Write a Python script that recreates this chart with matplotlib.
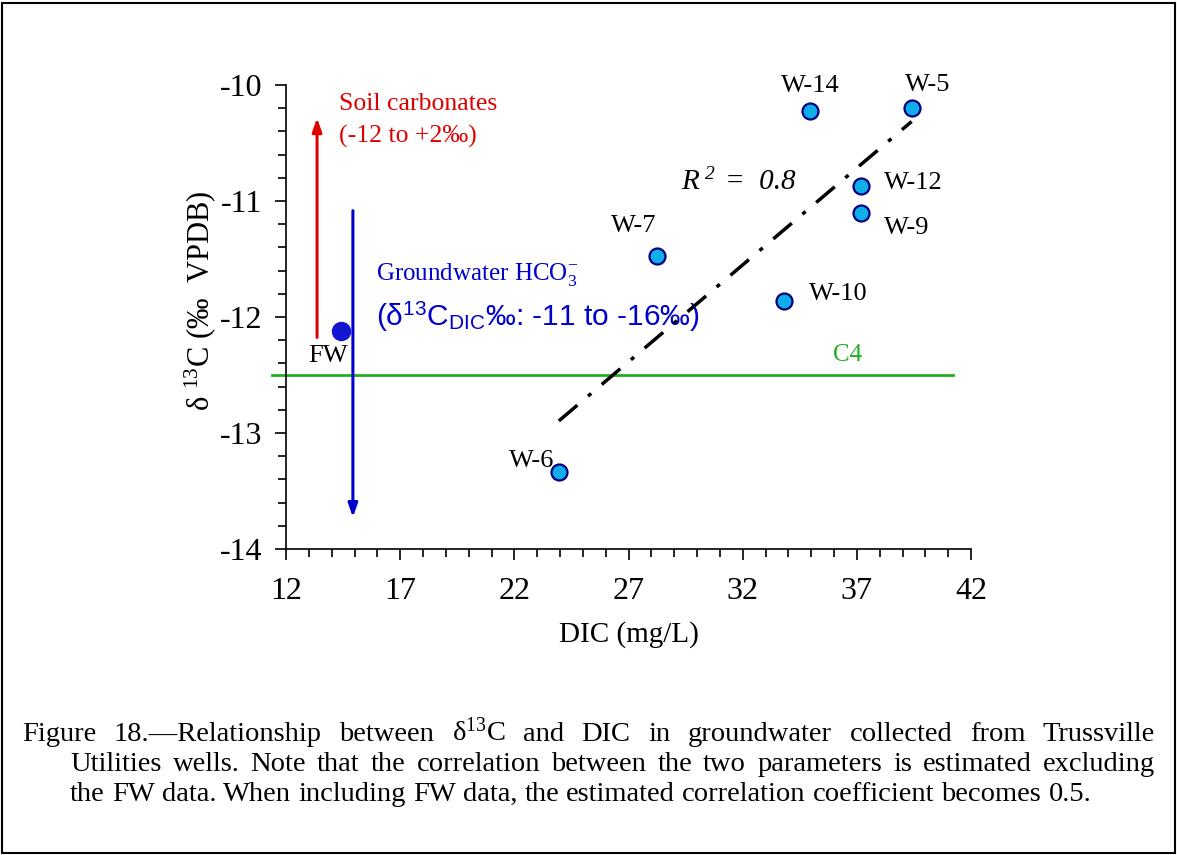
import matplotlib.pyplot as plt
import matplotlib.patches as patches
import numpy as np

# Datos
pozos = ["W-14", "W-5", "W-12", "W-9", "W-7", "W-10", "W-6"]
dic = [34.95, 39.4, 37.2, 37.2, 28.25, 33.8, 23.95]
d13c = [-10.22, -10.2, -10.87, -11.1, -11.47, -11.86, -13.34]
fw_dic = 14.4
fw_d13c = -12.12
c4_nivel = -12.5
c4_rango = [11.4, 41.2]
suelo_flecha = [13.36, -12.2, -10.26]
agua_flecha = [14.93, -11.06, -13.75]
r2_texto = "0.8"

xticks = [12, 17, 22, 27, 32, 37, 42]
yticks = [-14, -13, -12, -11, -10]

caption = [
    "Figure 18.\u2014Relationship between \u03b4$^{13}$C and DIC in groundwater collected from Trussville",
    "Utilities wells. Note that the correlation between the two parameters is estimated excluding",
    "the FW data. When including FW data, the estimated correlation coefficient becomes 0.5.",
]

# desplazamientos de etiquetas (pt), alineacion
offs = {
    "W-14": (0, 18, "center"), "W-5": (11.5, 16.5, "center"),
    "W-12": (16, 2, "left"), "W-9": (16, -11, "left"),
    "W-7": (-17, 21, "center"), "W-10": (18, 5, "left"),
    "W-6": (-3, 8, "right"),
}

plt.rcParams['font.family'] = 'Liberation Serif'
plt.rcParams['axes.unicode_minus'] = False
plt.rcParams['mathtext.fontset'] = 'custom'
plt.rcParams['mathtext.rm'] = 'Liberation Serif'
plt.rcParams['mathtext.it'] = 'Liberation Serif:italic'
plt.rcParams['mathtext.sf'] = 'Liberation Sans'

fig = plt.figure(figsize=(11.77, 8.55), dpi=100)
ax = fig.add_axes([286/1177, 1-549/855, 685/1177, 464/855])

ax.set_xlim(12, 42)
ax.set_ylim(-14, -10)
for s in ['top', 'right']:
    ax.spines[s].set_visible(False)
ax.spines['left'].set_linewidth(1.2)
ax.spines['bottom'].set_linewidth(1.2)
ax.set_xticks(xticks)
ax.set_yticks(yticks)
ax.set_xticks(np.arange(12, 43, 1), minor=True)
ax.set_yticks(np.arange(-14, -9.99, 0.2), minor=True)
ax.tick_params(which='major', length=8, width=1.2, labelsize=23)
ax.tick_params(which='minor', length=6, width=1.2)
ax.tick_params(axis='x', which='major', pad=12)
ax.tick_params(axis='y', which='major', pad=9)

ax.set_xlabel("DIC (mg/L)", fontsize=21)
ax.xaxis.set_label_coords(0.5, -0.155)
ax.set_ylabel("\u03b4 $^{13}$C (\u2030  VPDB)", fontsize=22)
ax.yaxis.set_label_coords(-0.10, 0.535)

# linea C4
ax.plot(c4_rango, [c4_nivel, c4_nivel], color='#22B022', lw=2, clip_on=False, zorder=2)
ax.text(36.6, c4_nivel + 0.08, "C4", color='#22B022', fontsize=18, ha='center', va='bottom')

# flechas
ax.annotate("", xy=(suelo_flecha[0], suelo_flecha[2]), xytext=(suelo_flecha[0], suelo_flecha[1]),
            arrowprops=dict(arrowstyle='-|>,head_length=0.8,head_width=0.28', color='#E00000', lw=2.2))
ax.annotate("", xy=(agua_flecha[0], agua_flecha[2]), xytext=(agua_flecha[0], agua_flecha[1]),
            arrowprops=dict(arrowstyle='-|>,head_length=0.8,head_width=0.28', color='#0000CC', lw=2.2))
ax.text(14.3, -10.16, "Soil carbonates", color='#E00000', fontsize=18.5, va='center')
ax.text(14.3, -10.44, "(-12 to +2\u2030)", color='#E00000', fontsize=18.5, va='center')
ax.text(15.95, -11.63, "Groundwater HCO$_{3}^{\\mathrm{-}}$", color='#0000CC', fontsize=18, va='center')
ax.text(15.95, -12.0, "(\u03b4$^{\\mathsf{13}}$C$_{\\mathsf{DIC}}$\u2030: -11 to -16\u2030)",
        color='#0000CC', fontsize=21.5, va='center', family='Liberation Sans')

# regresion sin FW
m, b = np.polyfit(dic, d13c, 1)
xr = np.array([min(dic), max(dic)])
ax.plot(xr, m*xr + b, color='black', lw=2.5, linestyle=(0, (7, 4, 1.2, 4)), zorder=3)
r2_pos = (29.3, -10.84)
ax.annotate("R", r2_pos, fontsize=21, style='italic', ha='left', va='center')
ax.annotate("2", r2_pos, xytext=(17, 6), textcoords='offset points',
            fontsize=14, style='italic', ha='left', va='center')
ax.annotate("=  " + r2_texto, r2_pos, xytext=(32, 0), textcoords='offset points',
            fontsize=21, style='italic', ha='left', va='center')

# puntos
ax.plot(dic, d13c, 'o', ms=11.5, mfc='#10AEE8', mec='#000080', mew=1.6, zorder=4, clip_on=False)
ax.plot(fw_dic, fw_d13c, 'o', ms=13, mfc='#1515D0', mec='#1515D0', zorder=4)
for p, xv, yv in zip(pozos, dic, d13c):
    dx, dy, ha = offs[p]
    ax.annotate(p, (xv, yv), xytext=(dx, dy), textcoords='offset points',
                fontsize=19, ha=ha, va='center')
ax.annotate("FW", (fw_dic, fw_d13c), xytext=(-9, -18), textcoords='offset points',
            fontsize=19, ha='center', va='center')

# marco de la figura
fig.patches.append(patches.Rectangle((0.002, 0.002), 0.996, 0.994, transform=fig.transFigure,
                                     fill=False, edgecolor='black', lw=1.5))

# leyenda justificada
r = fig.canvas.get_renderer()
def linea(texto, x0, x1, ybase, justificar=True, size=20.5):
    palabras = texto.split(' ')
    objs = [fig.text(0, 1-ybase/855, w, fontsize=size, va='baseline') for w in palabras]
    anchos = [o.get_window_extent(r).width for o in objs]
    t1 = fig.text(0, 0, "a b", fontsize=size)
    t2 = fig.text(0, 0, "ab", fontsize=size)
    espacio = t1.get_window_extent(r).width - t2.get_window_extent(r).width
    t1.remove()
    t2.remove()
    if justificar:
        hueco = (x1 - x0 - sum(anchos)) / (len(palabras) - 1)
    else:
        hueco = espacio
    x = x0
    for o, w in zip(objs, anchos):
        o.set_x(x/1177)
        x += w + hueco

linea(caption[0], 22, 1155, 741)
linea(caption[1], 70, 1155, 771)
linea(caption[2], 70, 1155, 801, justificar=False)

fig.savefig("out.png", dpi=100)
